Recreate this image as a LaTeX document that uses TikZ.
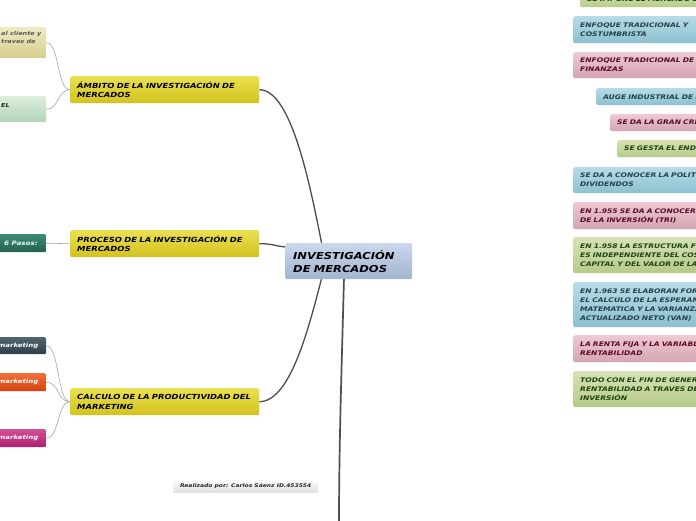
\documentclass[tikz,border=0pt]{standalone}
\usepackage{fontspec}
\setmainfont[FakeStretch=1.2]{DejaVu Sans}
\usetikzlibrary{calc}
\pgfdeclarelayer{background}
\pgfsetlayers{background,main}
\definecolor{yelT}{HTML}{EAE050}
\definecolor{yelB}{HTML}{D2C21E}
\definecolor{cenT}{HTML}{CAD8EC}
\definecolor{cenB}{HTML}{A2B4CE}
\definecolor{tanT}{HTML}{EEEAC2}
\definecolor{tanB}{HTML}{D6CE8E}
\definecolor{lgrT}{HTML}{DAEEDA}
\definecolor{lgrB}{HTML}{B6D2BA}
\definecolor{teaT}{HTML}{3C8C76}
\definecolor{teaB}{HTML}{24604E}
\definecolor{slaT}{HTML}{52666F}
\definecolor{slaB}{HTML}{2E3E48}
\definecolor{oraT}{HTML}{F2703A}
\definecolor{oraB}{HTML}{D6400E}
\definecolor{magT}{HTML}{D44E96}
\definecolor{magB}{HTML}{AE1E6E}
\definecolor{rbT}{HTML}{B6DCE6}
\definecolor{rbB}{HTML}{8CC0D0}
\definecolor{rpT}{HTML}{EECAD2}
\definecolor{rpB}{HTML}{D4A4B0}
\definecolor{rgT}{HTML}{D6E2B4}
\definecolor{rgB}{HTML}{B6CA88}
\definecolor{rbTx}{HTML}{24404C}
\definecolor{rpTx}{HTML}{5A0A28}
\definecolor{rgTx}{HTML}{1E4414}
\definecolor{mainline}{HTML}{4E4E4E}
\definecolor{subline}{HTML}{A6A6A6}
\tikzset{
  boxbase/.style={rounded corners=2pt, anchor=north west, inner ysep=0pt, inner xsep=7pt, align=left,
     font=\fontsize{6.3}{9}\selectfont\bfseries\itshape},
  yelbox/.style={boxbase, top color=yelT, bottom color=yelB, text width=175pt, minimum height=27pt,
     font=\fontsize{7.0}{9.6}\selectfont\bfseries\itshape},
  rblue/.style={boxbase, top color=rbT, bottom color=rbB, text=rbTx, text width=300pt},
  rpink/.style={boxbase, top color=rpT, bottom color=rpB, text=rpTx, text width=300pt},
  rgreen/.style={boxbase, top color=rgT, bottom color=rgB, text=rgTx, text width=300pt},
  leftbox/.style={rounded corners=2pt, anchor=north west, inner sep=0pt, minimum width=56pt},
  lefttxt/.style={inner sep=0pt, font=\fontsize{5.4}{8.3}\selectfont\bfseries\itshape, align=left},
  mainconn/.style={draw=mainline, line width=1.3pt},
  subconn/.style={draw=subline, line width=0.6pt},
}
\begin{document}
\begin{tikzpicture}[x=1pt,y=-1pt]
\useasboundingbox (0,0) rectangle (696,520);
\clip (0,0) rectangle (696,520);

\coordinate (ctop) at (322,245);
\coordinate (cbot) at (322,277);
\coordinate (cvert) at (344,277);
\coordinate (bottomend) at (339,522);

% center
\node[boxbase, top color=cenT, bottom color=cenB, text width=111pt, inner xsep=8pt, minimum height=36pt,
  font=\fontsize{9.6}{13}\selectfont\bfseries\itshape] (center) at (285,243) {INVESTIGACIÓN\\DE MERCADOS};

% main branches
\node[yelbox] (ambito) at (70,76) {ÁMBITO DE LA INVESTIGACIÓN DE\\MERCADOS};
\node[yelbox] (proceso) at (70,230) {PROCESO DE LA INVESTIGACIÓN DE\\MERCADOS};
\node[yelbox] (calculo) at (70,388) {CALCULO DE LA PRODUCTIVIDAD DEL\\MARKETING};

% left boxes
\node[leftbox, top color=tanT, bottom color=tanB, minimum height=31pt] (tan) at (-10,27) {};
\node[lefttxt, anchor=north west, text=black!65] (tantxt) at (1,31) {al cliente y\\traves de};
\node[leftbox, top color=lgrT, bottom color=lgrB, minimum height=26pt] (lgr) at (-10,96) {};
\node[lefttxt, anchor=west, text=black!85] (lgrtxt) at (1,105.5) {EL};
\node[leftbox, top color=teaT, bottom color=teaB, minimum height=18pt] (tea) at (-10,234) {};
\node[lefttxt, anchor=west, text=cyan!10, font=\fontsize{6.0}{8}\selectfont\bfseries\itshape] (teatxt) at (4,243) {6 Pasos:};
\node[leftbox, top color=slaT, bottom color=slaB, minimum height=17pt] (sla) at (-10,337) {};
\node[lefttxt, anchor=east, text=white, font=\fontsize{5.8}{8}\selectfont\bfseries\itshape] (slatxt) at (38.5,346) {marketing};
\node[leftbox, top color=oraT, bottom color=oraB, minimum height=18pt] (ora) at (-10,373) {};
\node[lefttxt, anchor=east, text=white, font=\fontsize{5.8}{8}\selectfont\bfseries\itshape] (oratxt) at (38.5,382) {marketing};
\node[leftbox, top color=magT, bottom color=magB, minimum height=18pt] (mag) at (-10,429) {};
\node[lefttxt, anchor=east, text=white, font=\fontsize{5.8}{8}\selectfont\bfseries\itshape] (magtxt) at (38.5,438) {marketing};

% connectors
\begin{pgfonlayer}{background}
\fill[white] (0,0) rectangle (696,520);
\draw[mainconn] (ambito.east) .. controls +(32,0) and +(-12,-60) .. (ctop);
\draw[mainconn] (proceso.east) .. controls +(14,0) and +(-12,-1) .. ($(center.north west)+(1,4)$);
\draw[mainconn] (calculo.east) .. controls +(32,0) and +(-12,45) .. (cbot);
\draw[mainconn, line width=1.7pt] (cvert) .. controls +(-2,80) and +(0,-80) .. (bottomend);
\draw[subconn] (ambito.west) .. controls +(-13,0) and +(13,0) .. (tan.east);
\draw[subconn] (ambito.west) .. controls +(-13,0) and +(13,0) .. (lgr.east);
\draw[subconn] (proceso.west) -- (tea.east);
\draw[subconn] (calculo.west) .. controls +(-13,0) and +(13,0) .. (sla.east);
\draw[subconn] (calculo.west) .. controls +(-13,0) and +(13,0) .. (ora.east);
\draw[subconn] (calculo.west) .. controls +(-13,0) and +(13,0) .. (mag.east);
\end{pgfonlayer}

% footer
\node[anchor=north west, minimum width=145pt, minimum height=13pt, inner sep=0pt, top color=white, bottom color=black!12,
  font=\fontsize{5.0}{6}\selectfont\bfseries\itshape, text=black!85] (autor) at (173,479) {Realizado por: Carlos Sáenz ID.453554};

% right column
\node[rgreen, minimum height=15pt] (r1) at (580,-8) {SE IMPONE EL MERCADO DE VALORES};
\node[rblue, minimum height=27pt] (r2) at (573,16) {ENFOQUE TRADICIONAL Y\\COSTUMBRISTA};
\node[rpink, minimum height=26pt] (r3) at (573,52) {ENFOQUE TRADICIONAL DE LAS\\FINANZAS};
\node[rblue, minimum height=17pt] (r4) at (596,88) {AUGE INDUSTRIAL DE LOS AÑOS 20};
\node[rpink, minimum height=17pt] (r5) at (610,114) {SE DA LA GRAN CRISIS};
\node[rgreen, minimum height=17pt] (r6) at (617,140) {SE GESTA EL ENDEUDAMIENTO};
\node[rblue, minimum height=26pt] (r7) at (573,167) {SE DA A CONOCER LA POLITICA DE\\DIVIDENDOS};
\node[rpink, minimum height=27pt] (r8) at (573,202) {EN 1.955 SE DA A CONOCER LA TASA\\DE LA INVERSIÓN (TRI)};
\node[rgreen, minimum height=36pt] (r9) at (573,237) {EN 1.958 LA ESTRUCTURA FINANCIERA\\ES INDEPENDIENTE DEL COSTO DE\\CAPITAL Y DEL VALOR DE LA EMPRESA};
\node[rblue, minimum height=45pt] (r10) at (573,282) {EN 1.963 SE ELABORAN FORMULAS PARA\\EL CALCULO DE LA ESPERANZA\\MATEMATICA Y LA VARIANZA DEL VALOR\\ACTUALIZADO NETO (VAN)};
\node[rpink, minimum height=27pt] (r11) at (573,335) {LA RENTA FIJA Y LA VARIABLE\\RENTABILIDAD};
\node[rgreen, minimum height=36pt] (r12) at (573,371) {TODO CON EL FIN DE GENERAR\\RENTABILIDAD A TRAVES DE LA\\INVERSIÓN};
\end{tikzpicture}
\end{document}
